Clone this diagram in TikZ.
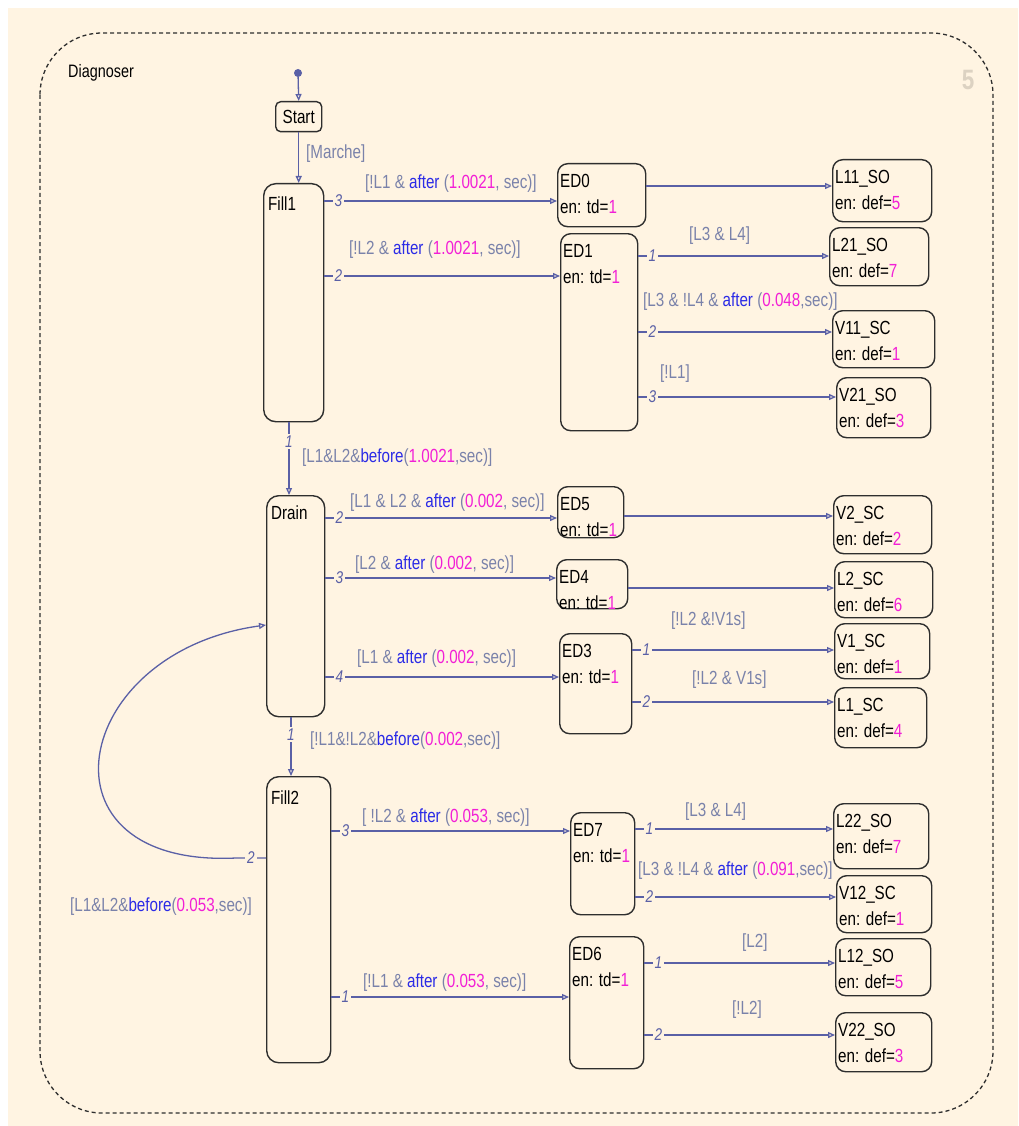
\documentclass[tikz,border=0pt]{standalone}
\usepackage{fontspec}
\setmainfont{Liberation Sans}[FakeStretch=0.8]
\usetikzlibrary{arrows.meta}
\definecolor{bg}{HTML}{FFF4E2}
\definecolor{edge}{HTML}{5A60A6}
\definecolor{guard}{HTML}{7A82AA}
\definecolor{kwblue}{HTML}{2B2BE6}
\definecolor{valmag}{HTML}{F21FD6}
\definecolor{frame}{HTML}{2E2E2E}
\definecolor{wmark}{HTML}{DCD2C2}
\newcommand{\kwd}[1]{\textcolor{kwblue}{#1}}
\newcommand{\vl}[1]{\textcolor{valmag}{#1}}
\tikzset{st/.style={draw=frame,line width=1.4pt,fill=bg,rounded corners=10pt,anchor=north west,inner sep=0pt,font=\fontsize{19}{25}\selectfont},stxt/.style={anchor=north west,align=left,inner sep=0pt,font=\fontsize{19}{26}\selectfont,text=black},tr/.style={draw=edge,line width=1.3pt,-{Triangle[open,length=7pt,width=6pt]}},num/.style={fill=bg,inner sep=2pt,text=edge,font=\itshape\fontsize{17}{17}\selectfont},grd/.style={anchor=west,inner sep=0pt,text=guard,font=\fontsize{19}{19}\selectfont}}

\begin{document}
\begin{tikzpicture}[x=1pt,y=-1pt]
\useasboundingbox (0,0) rectangle (1018,1126);
\fill[white] (0,0) rectangle (1018,1126);
\fill[bg] (8,8) rectangle (1018,1126);
\draw[frame,line width=1.3pt,dash pattern=on 4pt off 3pt,rounded corners=62pt] (40,33) rectangle (993,1113);
\node[anchor=west,inner sep=0pt,font=\fontsize{18}{18}\selectfont] (title) at (68,73) {Diagnoser};
\node[text=wmark,font=\bfseries\fontsize{28}{28}\selectfont] (five) at (968,80) {5};

\node[circle,fill=edge,inner sep=0pt,minimum size=8pt] (init) at (298,73) {};
\node[st,rounded corners=5pt,minimum width=46pt,minimum height=30pt] (start) at (275,101) {Start};
\node[st,rounded corners=12pt,minimum width=60pt,minimum height=238pt] (fill1) at (263,183) {};
\node[st,rounded corners=12pt,minimum width=58pt,minimum height=221pt] (drain) at (266,495) {};
\node[st,rounded corners=12pt,minimum width=64pt,minimum height=286pt] (fill2) at (266,776) {};
\node[stxt] (fill1-lab) at ([xshift=5pt,yshift=-14pt]fill1.north west) {Fill1};
\node[stxt] (drain-lab) at ([xshift=5pt,yshift=-11pt]drain.north west) {Drain};
\node[stxt] (fill2-lab) at ([xshift=5pt,yshift=-15pt]fill2.north west) {Fill2};

\foreach \n/\x/\y/\w/\h/\s in {ed0/557/163/88/63/ED0,ed1/560/233/77/197/ED1,ed5/557/486/66/51/ED5,ed4/556/559/71/49/ED4,ed3/559/633/72/100/ED3,ed7/570/812/64/102/ED7,ed6/569/936/74/132/ED6}{
  \node[st,minimum width=\w pt,minimum height=\h pt] (\n) at (\x,\y) {};
  \node[stxt] (\n-lab) at ([xshift=3pt,yshift=-11pt]\n.north west) {\s\\en: td=\vl{1}};
}
\foreach \n/\x/\y/\w/\h/\s/\d in {l11/832/159/99/62/L11\_SO/5,l21/829/227/99/58/L21\_SO/7,v11/832/310/102/57/V11\_SC/1,v21/836/377/94/60/V21\_SO/3,v2/833/495/98/58/V2\_SC/2,l2/834/561/98/56/L2\_SC/6,v1/834/623/95/55/V1\_SC/1,l1/834/687/92/60/L1\_SC/4,l22/833/803/95/65/L22\_SO/7,v12/836/875/95/57/V12\_SC/1,l12/835/938/95/57/L12\_SO/5,v22/835/1012/96/59/V22\_SO/3}{
  \node[st,minimum width=\w pt,minimum height=\h pt] (\n) at (\x,\y) {};
  \node[stxt] (\n-lab) at ([xshift=3pt,yshift=-11pt]\n.north west) {\s\\en: def=\vl{\d}};
}

\draw[tr] (init) -- (start.north);
\draw[tr] (start.south) -- (start.south |- fill1.north);
\node[grd] (g0) at (306,154) {[Marche]};

\draw[tr] (fill1.east |- 0,201) -- ++(14,0) node[num] {3} -- (ed0.west |- 0,201);
\draw[tr] (fill1.east |- 0,276) -- ++(14,0) node[num] {2} -- (ed1.west |- 0,276);
\node[grd] (g1) at (365,184) {[!L1 \& \kwd{after} (\vl{1.0021}, sec)]};
\node[grd] (g2) at (349,250) {[!L2 \& \kwd{after} (\vl{1.0021}, sec)]};

\draw[tr] (ed0.east |- 0,186) -- (l11.west |- 0,186);
\draw[tr] (ed1.east |- 0,256) -- ++(14,0) node[num] {1} -- (l21.west |- 0,256);
\draw[tr] (ed1.east |- 0,332) -- ++(14,0) node[num] {2} -- (v11.west |- 0,332);
\draw[tr] (ed1.east |- 0,397) -- ++(14,0) node[num] {3} -- (v21.west |- 0,397);
\node[grd] (g3) at (689,236) {[L3 \& L4]};
\node[grd] (g4) at (643,302) {[L3 \& !L4 \& \kwd{after} (\vl{0.048},sec)]};
\node[grd] (g5) at (660,374) {[!L1]};

\draw[tr] (fill1.south -| 289,0) -- ++(0,19) node[num] {1} -- (drain.north -| 289,0);
\node[grd] (g6) at (302,458) {[L1\&L2\&\kwd{before}(\vl{1.0021},sec)]};

\draw[tr] (drain.east |- 0,518) -- ++(14,0) node[num] {2} -- (ed5.west |- 0,518);
\draw[tr] (drain.east |- 0,578) -- ++(14,0) node[num] {3} -- (ed4.west |- 0,578);
\draw[tr] (drain.east |- 0,677) -- ++(14,0) node[num] {4} -- (ed3.west |- 0,677);
\node[grd] (g7) at (350,503) {[L1 \& L2 \& \kwd{after} (\vl{0.002}, sec)]};
\node[grd] (g8) at (355,565) {[L2 \& \kwd{after} (\vl{0.002}, sec)]};
\node[grd] (g9) at (357,659) {[L1 \& \kwd{after} (\vl{0.002}, sec)]};

\draw[tr] (ed5.east |- 0,516) -- (v2.west |- 0,516);
\draw[tr] (ed4.east |- 0,588) -- (l2.west |- 0,588);
\draw[tr] (ed3.east |- 0,650) -- ++(14,0) node[num] {1} -- (v1.west |- 0,650);
\draw[tr] (ed3.east |- 0,702) -- ++(14,0) node[num] {2} -- (l1.west |- 0,702);
\node[grd] (g10) at (671,621) {[!L2 \&!V1s]};
\node[grd] (g11) at (692,680) {[!L2 \& V1s]};

\draw[tr] (drain.south -| 291,0) -- ++(0,17) node[num] {1} -- (fill2.north -| 291,0);
\node[grd] (g12) at (310,741) {[!L1\&!L2\&\kwd{before}(\vl{0.002},sec)]};

\draw[tr] (fill2.west |- 0,858) -- ++(-15,0) node[num] {2} -- ++(-15,0) .. controls (30,868) and (70,652) .. (drain.west |- 0,625);
\node[grd] (g13) at (70,907) {[L1\&L2\&\kwd{before}(\vl{0.053},sec)]};

\draw[tr] (fill2.east |- 0,831) -- ++(14,0) node[num] {3} -- (ed7.west |- 0,831);
\draw[tr] (fill2.east |- 0,997) -- ++(14,0) node[num] {1} -- (ed6.west |- 0,997);
\node[grd] (g14) at (362,818) {[ !L2 \& \kwd{after} (\vl{0.053}, sec)]};
\node[grd] (g15) at (363,983) {[!L1 \& \kwd{after} (\vl{0.053}, sec)]};

\draw[tr] (ed7.east |- 0,829) -- ++(14,0) node[num] {1} -- (l22.west |- 0,829);
\draw[tr] (ed7.east |- 0,897) -- ++(14,0) node[num] {2} -- (v12.west |- 0,897);
\draw[tr] (ed6.east |- 0,963) -- ++(14,0) node[num] {1} -- (l12.west |- 0,963);
\draw[tr] (ed6.east |- 0,1035) -- ++(14,0) node[num] {2} -- (v22.west |- 0,1035);
\node[grd] (g16) at (685,812) {[L3 \& L4]};
\node[grd] (g17) at (638,871) {[L3 \& !L4 \& \kwd{after} (\vl{0.091},sec)]};
\node[grd] (g18) at (742,943) {[L2]};
\node[grd] (g19) at (732,1010) {[!L2]};
\end{tikzpicture}
\end{document}
